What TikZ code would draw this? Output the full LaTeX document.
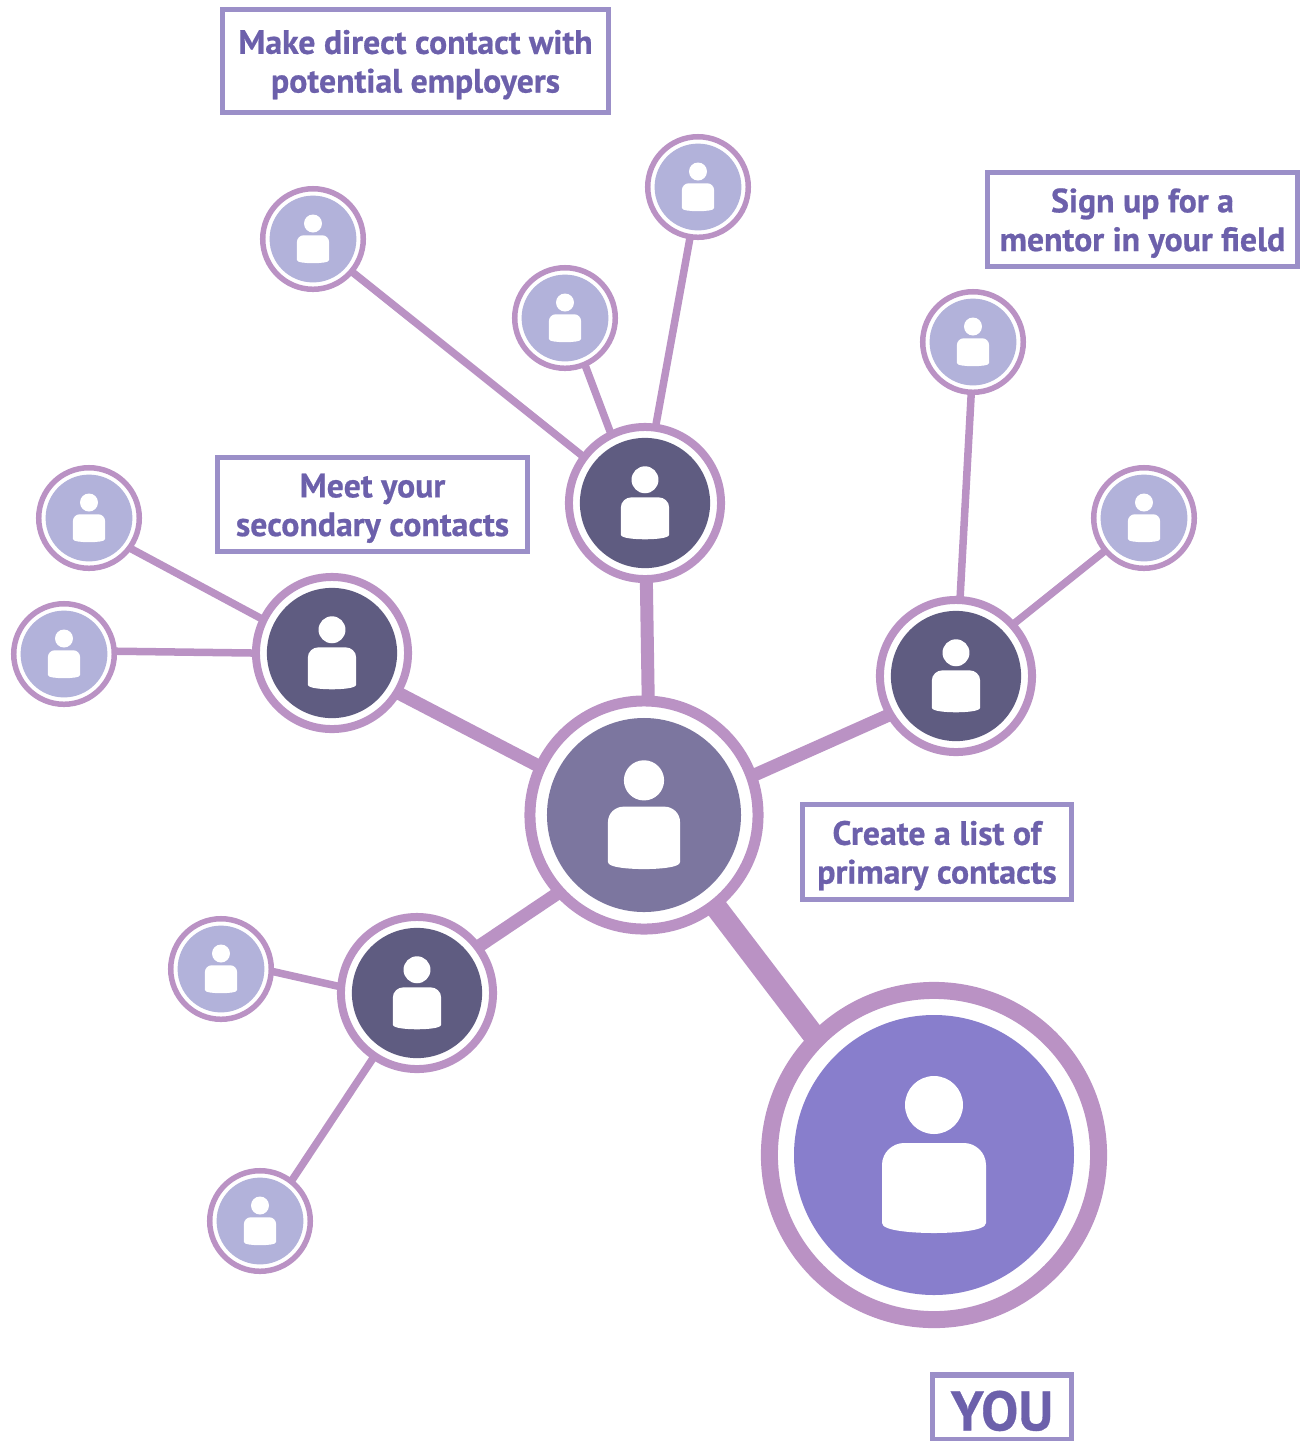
\documentclass[tikz,border=0pt]{standalone}
\usepackage{fontspec}
\setmainfont[BoldFeatures={FakeBold=0.6}]{PT Sans}
\usetikzlibrary{backgrounds}
\definecolor{ringcol}{HTML}{BA92C4}
\definecolor{boxcol}{HTML}{9B8FC8}
\definecolor{textcol}{HTML}{6C60AB}
\definecolor{youcol}{HTML}{887ECC}
\definecolor{centercol}{HTML}{7C769F}
\definecolor{primarycol}{HTML}{5F5C81}
\definecolor{leafcol}{HTML}{B2B2DA}
\newcommand{\taglift}{\rule{0pt}{8.9pt}}
\tikzset{
    ring/.style={circle, draw=ringcol, fill=white, inner sep=0pt},
    youring/.style={ring, line width=0.17cm, minimum size=3.29cm},
    centerring/.style={ring, line width=0.11cm, minimum size=2.28cm},
    primaryring/.style={ring, line width=0.08cm, minimum size=1.52cm},
    leafring/.style={ring, line width=0.055cm, minimum size=1.005cm},
    tag/.style={draw=boxcol, fill=white, line width=0.05cm, inner sep=0pt, align=center,
        text=textcol, font=\fontsize{9.6}{11}\selectfont\bfseries},
    link/.style={draw=ringcol, shorten <=-3pt, shorten >=-3pt},
    pics/person/.style={code={
        \fill[#1] (0,0) circle (140);
        \fill[white] (0,-50) circle (29);
        \fill[white] (-52,68) -- (-52,10) .. controls (-52,-3) and (-41,-12) .. (-30,-12)
            -- (30,-12) .. controls (41,-12) and (52,-3) .. (52,10) -- (52,68)
            .. controls (52,76) and (20,78) .. (0,78) .. controls (-20,78) and (-52,76) .. (-52,68) -- cycle;
    }}
}
\begin{document}
\begin{tikzpicture}[x=0.01cm, y=-0.01cm]
    \useasboundingbox (0,0) rectangle (1302,1441);

    \node[youring] (you) at (934,1155) {};
    \pic at (you) {person=youcol};
    \node[centerring] (center) at (644,815) {};
    \pic[scale=0.693] at (center) {person=centercol};

    \foreach \name/\x/\y in {top/645/503, left/332/653, right/956/676, low/417/993}
    {
        \node[primaryring] (\name) at (\x,\y) {};
        \pic[scale=0.465] at (\name) {person=primarycol};
    }
    \foreach \name/\x/\y in {a/313/239, b/565/318, c/698/187, d/973/342, e/1144/518,
        f/89/518, g/64/654, h/221/969, i/260/1221}
    {
        \node[leafring] (\name) at (\x,\y) {};
        \pic[scale=0.31] at (\name) {person=leafcol};
    }

    \begin{scope}[on background layer]
        \draw[link, line width=0.22cm] (center.-52) -- (you.135);
        \foreach \p/\q in {center.88/top.-89, center.155/left.-31, center.20/right.210, center.222/low.37}
        {
            \draw[link, line width=0.13cm] (\p) -- (\q);
        }
        \foreach \p/\q in {a.-40/top.143, b.-67/top.116, c.-99/top.82, d.-92/right.87, e.220/right.42,
            f.-36/left.154, g.3/left.180, h.-3/low.175, i.52/low.236}
        {
            \draw[link, line width=0.075cm] (\p) -- (\q);
        }
    \end{scope}

    \node[tag, minimum width=3.86cm, minimum height=1.03cm] (employers) at (415.5,61) {\taglift Make direct contact with\\potential employers};
    \node[tag, minimum width=3.10cm, minimum height=0.94cm] (mentor) at (1142.5,219.5) {\taglift Sign up for a\\mentor in your field};
    \node[tag, minimum width=3.10cm, minimum height=0.94cm] (secondary) at (372.5,504.5) {\taglift Meet your\\secondary contacts};
    \node[tag, minimum width=2.69cm, minimum height=0.95cm] (primary) at (937,852) {\taglift Create a list of\\primary contacts};
    \node[tag, minimum width=1.39cm, minimum height=0.64cm, font=\fontsize{15.8}{17}\selectfont\bfseries,
        execute at begin node={\rule{0pt}{13.5pt}}] (youtag) at (1002,1407) {YOU};
\end{tikzpicture}
\end{document}
